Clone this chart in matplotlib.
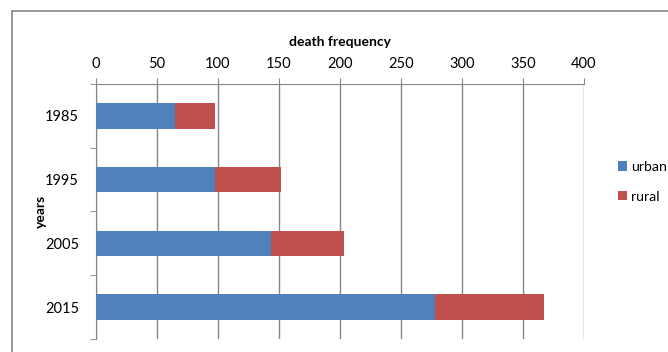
import matplotlib.pyplot as plt
from matplotlib.patches import Rectangle

years = ['1985', '1995', '2005', '2015']
urban = [65, 98, 144, 278]
rural = [32.5, 54, 59, 89]

plt.rcParams['font.family'] = ['Lato', 'DejaVu Sans']
gray = '#868686'

fig = plt.figure(figsize=(6.68, 3.52), dpi=100)
# chart border (right and bottom edges cut off like the source image)
fig.patches.append(Rectangle((12/668, -0.1), 1.0, 1.1 - 11/352, transform=fig.transFigure,
                             fill=False, edgecolor=gray, linewidth=1.2))

ax = fig.add_axes([95.7/668, 13/352, (584 - 95.7)/668, (339 - 84)/352])
pos = list(range(len(years)))
ax.barh(pos, urban, height=0.4, color='#4F81BD', label='urban', zorder=3)
ax.barh(pos, rural, left=urban, height=0.4, color='#C0504D', label='rural', zorder=3)

ax.set_xlim(0, 400)
ax.set_ylim(len(years) - 0.5, -0.5)
ax.xaxis.tick_top()
ax.xaxis.set_label_position('top')
ax.set_xticks(range(0, 401, 50))
ax.set_xlabel('death frequency', fontsize=10, fontweight='bold', labelpad=8)
ax.set_ylabel('years', fontsize=10, fontweight='bold')
ax.yaxis.set_label_coords(-0.1, 0.5)

ax.set_yticks(pos)
ax.set_yticklabels(years)
ax.set_yticks([i - 0.5 for i in range(len(years) + 1)], minor=True)
ax.tick_params(axis='y', which='major', length=0, pad=12, labelsize=10.5)
ax.tick_params(axis='y', which='minor', length=4, color=gray, direction='out')
ax.tick_params(axis='x', length=4, color=gray, direction='out', labelsize=10.5, pad=5)

ax.grid(axis='x', color=gray, linewidth=1, zorder=0)
for s in ['right', 'bottom']:
    ax.spines[s].set_visible(False)
for s in ['top', 'left']:
    ax.spines[s].set_color(gray)

fig.legend(loc='upper left', bbox_to_anchor=(618/668, 1 - 161/352), frameon=False,
           fontsize=10.2, handlelength=0.65, handleheight=0.65, handletextpad=0.3,
           labelspacing=1.25, borderaxespad=0, borderpad=0)

fig.savefig('out.png', dpi=100)
